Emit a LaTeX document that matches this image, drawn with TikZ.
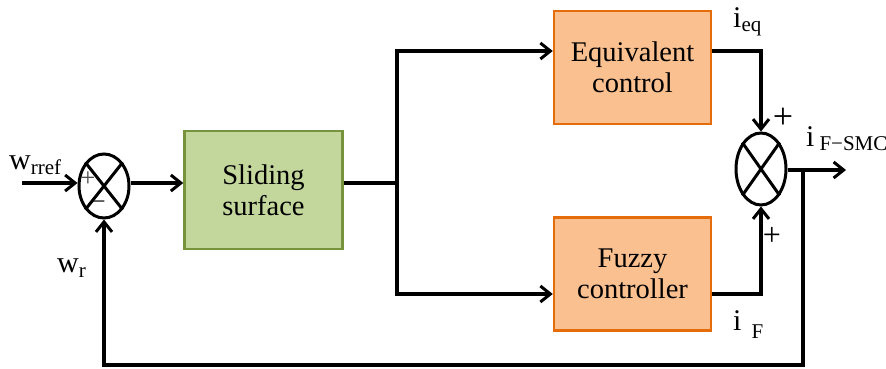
\documentclass[tikz,border=0pt]{standalone}
\usepackage{fontspec}
\setmainfont{Liberation Serif}
\usetikzlibrary{arrows.meta,shapes.geometric}
\begin{document}
\begin{tikzpicture}[x=1pt,y=-1pt,
  wire/.style={line width=3.2pt},
  arr/.style={wire,-{Straight Barb[length=10pt,width=16pt,line width=3pt]}},
  greenbox/.style={line width=2.5pt,minimum width=158pt,minimum height=118pt,align=center,font=\fontsize{28.5}{31}\selectfont},
  orangebox/.style={line width=2.5pt,minimum width=157pt,minimum height=113pt,align=center,font=\fontsize{28.5}{31}\selectfont},
  summer/.style={draw,ellipse,line width=3pt,minimum width=50pt,minimum height=64pt,inner sep=0pt},
  lbl/.style={font=\fontsize{30}{32}\selectfont,inner sep=0pt},
  sign/.style={font=\fontsize{36}{38}\selectfont,inner sep=0pt}]
\useasboundingbox (0,0) rectangle (886,369);
\definecolor{gfill}{HTML}{C3D69B}
\definecolor{gdraw}{HTML}{77933C}
\definecolor{ofill}{HTML}{FAC090}
\definecolor{odraw}{HTML}{E46C0A}
\tikzset{greenbox/.append style={draw=gdraw,fill=gfill},orangebox/.append style={draw=odraw,fill=ofill}}
\newcommand{\subtxt}[2][-5pt]{\raisebox{#1}{\fontsize{21}{23}\selectfont #2}}

% blocks
\node[greenbox] (slide) at (263.5,190) {Sliding\\surface};
\node[orangebox] (eq) at (632.5,67.5) {Equivalent\\control};
\node[orangebox] (fz) at (632.5,274) {Fuzzy\\controller};

% summing junctions
\node[summer] (s1) at (104,186) {};
\draw[line width=3pt] (s1.north west) -- (s1.south east) (s1.north east) -- (s1.south west);
\node[summer,minimum height=72pt] (s2) at (761,169) {};
\draw[line width=3pt] (s2.north west) -- (s2.south east) (s2.north east) -- (s2.south west);

% helper points
\coordinate (in) at (22,183);
\coordinate (br) at (397,183);
\coordinate (eqc) at (761,51);
\coordinate (fzc) at (761,294);
\coordinate (out) at (846,170);
\coordinate (fbtop) at (803,170);
\coordinate (fbr) at (803,365);
\coordinate (fbl) at (104,365);

% forward path
\draw[arr] (in) -- (s1.west |- in);
\draw[arr] (s1.east |- in) -- (slide.west |- in);
\draw[wire] (slide.east |- br) -- (br);
\draw[arr] (br) |- (eq.west |- eqc);
\draw[arr] (br) |- (fz.west |- fzc);
\draw[arr] (eq.east |- eqc) -- (eqc) -- (s2.north);
\draw[arr] (fz.east |- fzc) -- (fzc) -- (s2.south);
\draw[arr] (s2.east |- out) -- (out);

% feedback
\draw[arr] (fbtop) -- (fbr) -- (fbl) -- (s1.south);

% signs
\node[sign,font=\fontsize{26}{26}\selectfont,text=black!70] (p1) at (88,179) {+};
\node[sign,font=\fontsize{24}{24}\selectfont] (m1) at (99,205) {\textminus};
\node[sign] (p2) at (783,118) {+};
\node[sign,font=\fontsize{32}{34}\selectfont] (p3) at (772,236) {+};

% labels
\node[lbl,anchor=base west] (lw) at (9,169) {w\subtxt{rref}};
\node[lbl,anchor=base west] (lwr) at (57,272) {w\subtxt{r}};
\node[lbl,anchor=base west] (lieq) at (733,28) {i\subtxt[-4pt]{eq}};
\node[lbl,anchor=base west] (lsmc) at (806,146) {i\,\subtxt[-4pt]{F\textminus SMC}};
\node[lbl,anchor=base west] (lif) at (733,330) {i\,\,\subtxt[-8pt]{F}};
\end{tikzpicture}
\end{document}
